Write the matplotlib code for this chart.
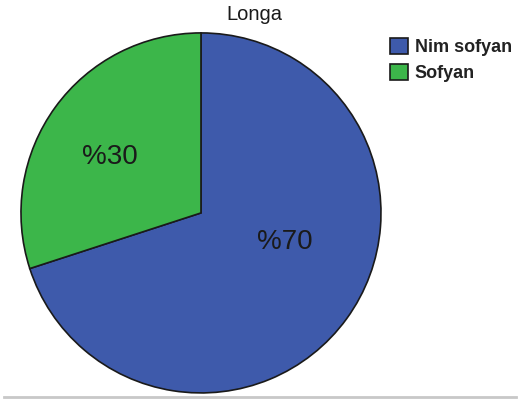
import matplotlib.pyplot as plt

plt.rcParams['font.family'] = ['Liberation Sans', 'DejaVu Sans']

labels = ['Nim sofyan', 'Sofyan']
values = [70, 30]
colors = ['#3e5aab', '#3cb64a']

fig = plt.figure(figsize=(5.18, 4.01), dpi=100)
ax = fig.add_axes([0.0405, 0.02, 0.695, 0.898])

wedges, texts, autotexts = ax.pie(values, colors=colors, startangle=90, counterclock=False,
                                  autopct=lambda p: '%%%d' % round(p), pctdistance=0.52,
                                  wedgeprops=dict(edgecolor='#1a1a1a', linewidth=1.2),
                                  textprops=dict(fontsize=20, color='#1a1a1a'))
ax.set_xlim(-1, 1)
ax.set_ylim(-1, 1)
# SPSS puts the big label closer to the horizontal
autotexts[0].set_position((0.467, -0.16))
autotexts[1].set_position((-0.505, 0.31))

fig.text(0.492, 0.963, 'Longa', ha='center', va='center', fontsize=14.5, color='#1a1a1a')

leg = fig.legend(wedges, labels, loc='upper left', bbox_to_anchor=(0.752, 0.905),
                 frameon=False, fontsize=13, handlelength=1.05, handleheight=1.0,
                 handletextpad=0.35, labelspacing=0.4, borderaxespad=0, borderpad=0)
for t in leg.get_texts():
    t.set_fontweight('bold')
    t.set_color('#222222')

# grey rule along the bottom
fig.add_artist(plt.Line2D([0.008, 0.996], [0.01, 0.01], color='#c8c8c8', linewidth=2,
                          transform=fig.transFigure))

fig.savefig('out.png', dpi=100)
